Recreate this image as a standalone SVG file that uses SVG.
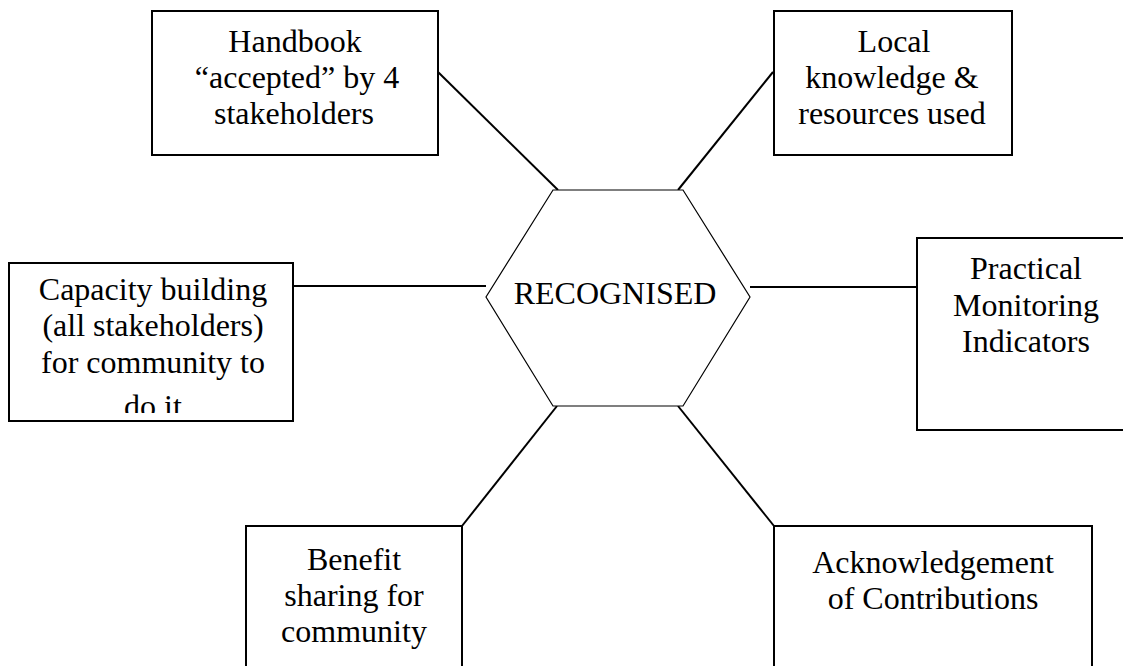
<svg xmlns="http://www.w3.org/2000/svg" width="1123" height="666" viewBox="0 0 1123 666">
<style>
.box{fill:#fff;stroke:#000;stroke-width:2}
.hex{fill:#fff;stroke:#000;stroke-width:1.2}
.conn{stroke:#000;stroke-width:2;fill:none}
text{font-family:"Liberation Serif","Times New Roman",serif;font-size:32px;fill:#000;text-anchor:middle}
</style>
<defs>
<clipPath id="clipCap"><rect x="9" y="263" width="284" height="150"/></clipPath>
</defs>
<rect width="1123" height="666" fill="#fff"/>
<g id="connectors">
<line class="conn" x1="438" y1="72" x2="558" y2="190"/>
<line class="conn" x1="773" y1="72" x2="678" y2="190"/>
<line class="conn" x1="293" y1="286" x2="486" y2="286"/>
<line class="conn" x1="750" y1="287" x2="917" y2="287"/>
<line class="conn" x1="557" y1="406" x2="462" y2="526"/>
<line class="conn" x1="678" y1="406" x2="774" y2="526"/>
</g>
<g id="hub">
<polygon class="hex" points="553,190 683,190 750,297 683,406 553,406 486,297"/>
<text x="615" y="304">RECOGNISED</text>
</g>
<g id="handbook">
<rect class="box" x="152" y="11" width="286" height="144"/>
<text x="295" y="52">Handbook</text>
<text x="297" y="88">“accepted” by 4</text>
<text x="294" y="124">stakeholders</text>
</g>
<g id="local">
<rect class="box" x="774" y="11" width="238" height="144"/>
<text x="894" y="52">Local</text>
<text x="892" y="88">knowledge &amp;</text>
<text x="892" y="124">resources used</text>
</g>
<g id="capacity">
<rect class="box" x="9" y="263" width="284" height="158"/>
<g clip-path="url(#clipCap)">
<text x="153" y="300">Capacity building</text>
<text x="153" y="336">(all stakeholders)</text>
<text x="153" y="373">for community to</text>
<text x="153" y="417">do it</text>
</g>
</g>
<g id="practical">
<rect class="box" x="917" y="238" width="220" height="192"/>
<text x="1026" y="279">Practical</text>
<text x="1026" y="316">Monitoring</text>
<text x="1026" y="352">Indicators</text>
</g>
<g id="benefit">
<rect class="box" x="246" y="526" width="216" height="160"/>
<text x="354" y="570">Benefit</text>
<text x="354" y="606">sharing for</text>
<text x="354" y="642">community</text>
</g>
<g id="acknowledgement">
<rect class="box" x="774" y="526" width="318" height="160"/>
<text x="933" y="573">Acknowledgement</text>
<text x="933" y="609">of Contributions</text>
</g>
</svg>
